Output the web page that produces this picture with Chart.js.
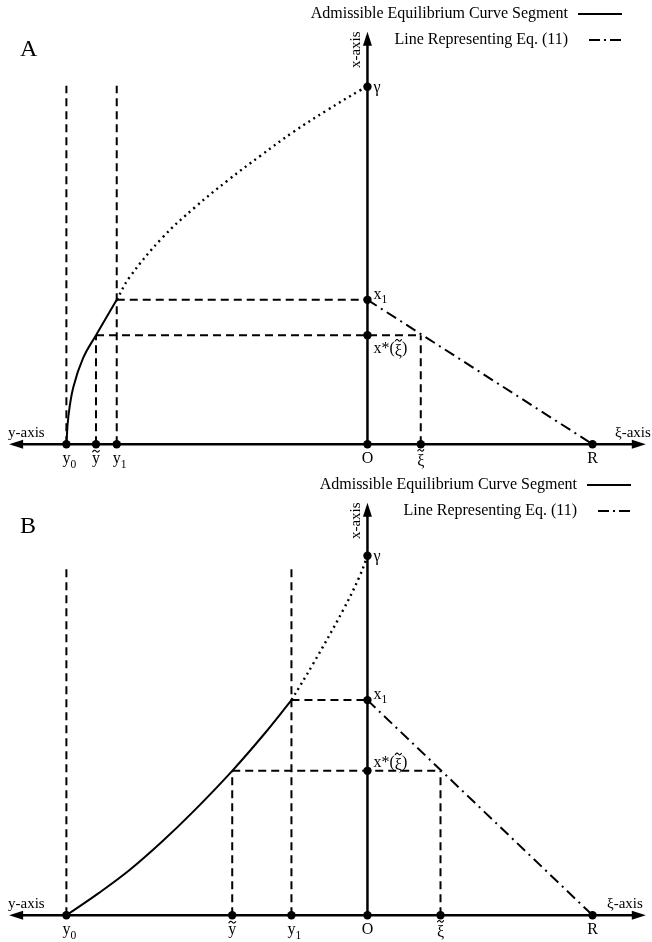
<!DOCTYPE html>
<html>
<head>
<meta charset="utf-8">
<script src="https://cdn.jsdelivr.net/npm/chart.js@4.4.1/dist/chart.umd.min.js"></script>
<style>
  html, body { margin: 0; padding: 0; background: #fff; }
  canvas { display: block; }
</style>
</head>
<body>
<canvas id="panelA" width="652" height="471"></canvas>
<canvas id="panelB" width="652" height="471"></canvas>
<script>
// positions on the horizontal axis (O = 0, y side negative, xi side positive)
const pointLabels = ['y_0', '~y', 'y_1', 'O', '~ξ', 'R'];
const pointsA = [-305, -275, -254, 0, 54, 228];
const pointsB = [-305, -137, -77, 0, 74, 228];

// marks on the vertical x-axis
const levelLabels = ['γ', 'x_1', 'x*(~ξ)'];
const levelsA = [364, 147, 111];
const levelsB = [366, 219, 147];

// equilibrium curve: [position, x]
const solidA = [[-305, 0], [-303, 28], [-298, 58], [-288, 88], [-275, 111], [-254, 147]];
const dottedA = [[-254, 147], [-241, 170], [-208, 210], [-175, 241], [-141, 269], [-108, 294], [-75, 318], [-41, 340], [-8, 360], [0, 364]];
const solidB = [[-305, 0], [-273, 22], [-241, 46], [-208, 75], [-175, 107], [-137, 147], [-105, 184], [-77, 219]];
const dottedB = [[-77, 219], [-55, 256], [-25, 310], [-8, 345], [0, 366]];

const guideTops = [365, 356];   // top of the long dashed verticals (A, B)
const axisLeft = -363, axisRight = 282, axisTop = 420;
const legendItems = ['Admissible Equilibrium Curve Segment', 'Line Representing Eq. (11)'];

const SERIF = '"Liberation Serif", "DejaVu Serif", serif';
const DASHED = [8, 5], DOTTED = [2, 4], DASHDOT = [11, 5, 2, 5];

function tilde(ctx, cx, cy, w) {
  ctx.save();
  ctx.lineWidth = 1.1;
  ctx.setLineDash([]);
  ctx.beginPath();
  ctx.moveTo(cx - w / 2, cy + 1);
  ctx.quadraticCurveTo(cx - w / 4, cy - 2.2, cx, cy);
  ctx.quadraticCurveTo(cx + w / 4, cy + 2.2, cx + w / 2, cy - 1);
  ctx.stroke();
  ctx.restore();
}

// '_' makes the next char a subscript, '~' puts a tilde over the next char
function drawLabel(ctx, str, x, y, size, centerFirst) {
  const parts = [];
  for (let i = 0; i < str.length; i++) {
    const c = str[i];
    if (c === '_') parts.push({ t: str[++i], sub: true });
    else if (c === '~') parts.push({ t: str[++i], tilde: true });
    else parts.push({ t: c });
  }
  parts.forEach(p => {
    ctx.font = `${p.sub ? size * 0.72 : size}px ${SERIF}`;
    p.w = ctx.measureText(p.t).width;
  });
  let cx = centerFirst ? x - parts[0].w / 2 : x;
  ctx.textAlign = 'left';
  ctx.textBaseline = 'middle';
  parts.forEach(p => {
    ctx.font = `${p.sub ? size * 0.72 : size}px ${SERIF}`;
    const ty = p.t === 'ξ' ? y + 3 : y;
    ctx.fillText(p.t, cx, p.sub ? y + size * 0.33 : ty);
    if (p.tilde) {
      const lift = p.t === 'ξ' ? size * 0.74 : size * 0.5;
      tilde(ctx, cx + p.w / 2, ty - lift, p.w * 0.9);
    }
    cx += p.w;
  });
}

function arrow(ctx, tx, ty, dx, dy) {
  const len = 14, half = 4.5;
  const bx = tx - dx * len, by = ty - dy * len;
  ctx.beginPath();
  ctx.moveTo(tx, ty);
  ctx.lineTo(bx - dy * half, by + dx * half);
  ctx.lineTo(bx + dy * half, by - dx * half);
  ctx.closePath();
  ctx.fill();
}

const overlay = {
  id: 'overlay',
  afterDatasetsDraw(chart, args, o) {
    const { ctx } = chart;
    const px = v => chart.scales.x.getPixelForValue(v);
    const py = v => chart.scales.y.getPixelForValue(v);
    ctx.save();
    ctx.fillStyle = '#000';
    ctx.strokeStyle = '#000';

    // axis arrows
    arrow(ctx, px(axisLeft), py(0), -1, 0);
    arrow(ctx, px(axisRight), py(0), 1, 0);
    arrow(ctx, px(0), py(axisTop), 0, -1);

    // panel letter
    ctx.font = `24px ${SERIF}`;
    ctx.textAlign = 'left';
    ctx.textBaseline = 'middle';
    ctx.fillText(o.letter, 20, o.letterY);

    // axis names
    ctx.font = `15px ${SERIF}`;
    ctx.fillText('y-axis', 8, py(0) - 11);
    ctx.fillText('ξ-axis', o.xiAxisX, py(0) - 11);
    ctx.save();
    ctx.translate(px(0) - 11, py(axisTop) + 18);
    ctx.rotate(-Math.PI / 2);
    ctx.textAlign = 'center';
    ctx.fillText('x-axis', 0, 0);
    ctx.restore();

    // point labels
    o.points.forEach((v, i) => {
      drawLabel(ctx, pointLabels[i], px(v), py(0) + 15, 16, true);
    });
    const lx = px(0) + 6;
    drawLabel(ctx, levelLabels[0], lx, py(o.levels[0]) + 1, 16, false);
    drawLabel(ctx, levelLabels[1], lx, py(o.levels[1]) - 5, 16, false);
    drawLabel(ctx, levelLabels[2], lx, py(o.levels[2]) + o.starOffset, 16, false);

    // legend
    const rows = [{ y: 14, dash: [], from: 10 }, { y: 40, dash: [11, 4, 2, 4], from: 21 }];
    rows.forEach((r, i) => {
      ctx.font = `16px ${SERIF}`;
      ctx.textAlign = 'right';
      ctx.textBaseline = 'middle';
      ctx.fillText(legendItems[i], o.legendX, r.y);
      ctx.beginPath();
      ctx.setLineDash(r.dash);
      ctx.lineWidth = 2;
      ctx.moveTo(o.legendX + r.from, r.y);
      ctx.lineTo(o.legendX + 54, r.y);
      ctx.stroke();
    });
    ctx.restore();
  }
};

function seg(data, dash, width) {
  return {
    data: data.map(p => ({ x: p[0], y: p[1] })),
    showLine: true,
    borderColor: '#000',
    borderWidth: width || 2,
    borderDash: dash || [],
    pointRadius: 0,
    tension: 0,
    clip: false
  };
}

function makePanel(id, points, levels, solid, dotted, guideTop, extra) {
  const [y0, yt, y1, O, xi, R] = points;
  const [gamma, x1, xs] = levels;
  const curve = (d, dash, w) => Object.assign(seg(d, dash, w), { tension: 0.4 });
  const dots = points.map(v => ({ x: v, y: 0 })).concat(levels.map(v => ({ x: 0, y: v })));
  new Chart(document.getElementById(id), {
    type: 'scatter',
    data: {
      datasets: [
        seg([[y0, 0], [y0, guideTop]], DASHED),
        seg([[y1, 0], [y1, guideTop]], DASHED),
        seg([[y1, x1], [O, x1]], DASHED),
        seg([[yt, xs], [xi, xs]], DASHED),
        seg([[yt, 0], [yt, xs]], DASHED),
        seg([[xi, 0], [xi, xs]], DASHED),
        seg([[O, x1], [R, 0]], DASHDOT),
        curve(solid, [], 2),
        curve(dotted, DOTTED, 2.4),
        seg([[axisLeft + 6, 0], [axisRight - 6, 0]], [], 2.5),
        seg([[0, 0], [0, axisTop - 6]], [], 2.5),
        { data: dots, pointRadius: 4.2, pointBackgroundColor: '#000', pointBorderWidth: 0, showLine: false, clip: false }
      ]
    },
    options: {
      responsive: false,
      animation: false,
      events: [],
      layout: { padding: 0 },
      scales: {
        x: { type: 'linear', min: -368, max: 284, display: false },
        y: { type: 'linear', min: -23, max: 448, display: false }
      },
      plugins: {
        legend: { display: false },
        tooltip: { enabled: false },
        overlay: Object.assign({ points, levels }, extra)
      }
    },
    plugins: [overlay]
  });
}

makePanel('panelA', pointsA, levelsA, solidA, dottedA, guideTops[0],
  { letter: 'A', letterY: 50, xiAxisX: 615, starOffset: 14, legendX: 568 });
makePanel('panelB', pointsB, levelsB, solidB, dottedB, guideTops[1],
  { letter: 'B', letterY: 56, xiAxisX: 607, starOffset: -8, legendX: 577 });
</script>
</body>
</html>
